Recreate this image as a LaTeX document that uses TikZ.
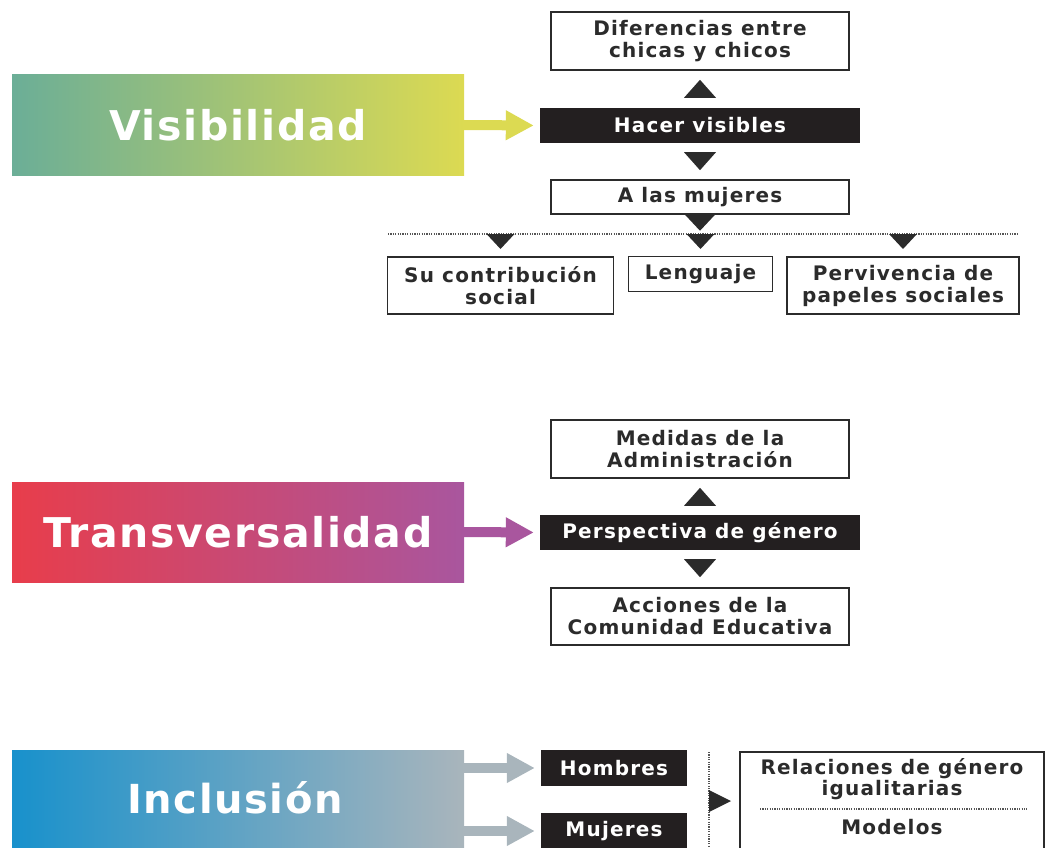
\documentclass[tikz,border=0pt]{standalone}
\usepackage{fontspec}
\setmainfont{DejaVu Sans}
\newfontfamily\labelfont{DejaVu Sans}[LetterSpace=6,BoldFont={DejaVu Sans Bold}]
\newfontfamily\headfont{DejaVu Sans}[LetterSpace=4,BoldFont={DejaVu Sans Bold}]
\usetikzlibrary{calc,arrows.meta}

\definecolor{ink}{HTML}{2B2B2B}
\definecolor{boxblack}{HTML}{231F20}
\definecolor{visL}{HTML}{6BAE97}
\definecolor{visR}{HTML}{DCDA52}
\definecolor{traL}{HTML}{E83D4B}
\definecolor{traR}{HTML}{A9569E}
\definecolor{incL}{HTML}{1891CC}
\definecolor{incR}{HTML}{A9B5BC}
\definecolor{dotgray}{HTML}{555555}

% filled triangles used as arrowheads between boxes
\newcommand\downtri[3]{\fill[ink] (#1) ++(-#2/2,0) -- ++(#2,0) -- ++(-#2/2,#3) -- cycle;}
\newcommand\uptri[3]{\fill[ink] (#1) ++(-#2/2,0) -- ++(#2,0) -- ++(-#2/2,-#3) -- cycle;}

\begin{document}
\begin{tikzpicture}[x=1pt,y=-1pt,
  labeltext/.style={font=\labelfont\bfseries\fontsize{20}{22}\selectfont},
  whitebox/.style={labeltext, draw=ink, line width=1.5pt, fill=white, text=ink,
    align=center, inner sep=0pt},
  darkbox/.style={labeltext, fill=boxblack, text=white, align=center, inner sep=0pt,
    minimum height=35pt},
  headbox/.style={inner sep=0pt, minimum width=452pt, minimum height=100pt, text=white,
    font=\headfont\bfseries\fontsize{41}{44}\selectfont},
  fatarrow/.style={line width=10pt, -{Triangle[length=28pt,width=28pt]}, shorten >=6pt},
  dotline/.style={draw=dotgray, line width=1.2pt, dash pattern=on 1.2pt off 1.2pt}
]
\useasboundingbox (0,0) rectangle (1046,848);
\clip (0,0) rectangle (1046,848);

% ---------- Visibilidad ----------
\node[headbox, left color=visL, right color=visR] (vis) at (238,125) {Visibilidad};
\node[whitebox, minimum width=298pt, minimum height=58pt] (dif) at (700,41)
  {Diferencias entre\\chicas y chicos};
\node[darkbox, minimum width=320pt] (hacer) at (700,125.5) {Hacer visibles};
\node[whitebox, minimum width=298pt, minimum height=34pt] (muj) at (700,197)
  {A las mujeres};
\node[whitebox, minimum width=226pt, minimum height=57pt] (contrib) at (500.5,285.5)
  {Su contribución\\social};
\node[whitebox, minimum width=144pt, minimum height=35pt] (leng) at (700.5,274)
  {Lenguaje};
\node[whitebox, minimum width=232pt, minimum height=57pt] (perv) at (903,285.5)
  {Pervivencia de\\papeles sociales};

\draw[fatarrow, visR] (vis.east) -- (hacer.west);
\uptri{$(hacer.north)+(0,-10)$}{32}{18}
\downtri{$(hacer.south)+(0,9)$}{32}{18}
\coordinate (rowL) at (388,234);
\coordinate (rowR) at (1018,234);
\draw[dotline] (rowL) -- (rowR);
\downtri{muj.south}{30}{16}
\downtri{$(contrib.north |- rowL)$}{28}{15}
\downtri{$(leng.north |- rowL)$}{28}{15}
\downtri{$(perv.north |- rowL)$}{28}{15}

% ---------- Transversalidad ----------
\node[headbox, left color=traL, right color=traR] (tra) at (238,532) {Transversalidad};
\node[whitebox, minimum width=298pt, minimum height=58pt] (med) at (700,449)
  {Medidas de la\\Administración};
\node[darkbox, minimum width=320pt] (persp) at (700,532.5) {Perspectiva de género};
\node[whitebox, minimum width=298pt, minimum height=57pt] (acc) at (700,616.5)
  {Acciones de la\\Comunidad Educativa};

\draw[fatarrow, traR] (tra.east) -- (persp.west);
\uptri{$(persp.north)+(0,-9)$}{32}{18}
\downtri{$(persp.south)+(0,9)$}{32}{18}

% ---------- Inclusión ----------
\node[headbox, left color=incL, right color=incR, minimum height=120pt, anchor=north]
  (inc) at (238,750) {};
\node[font=\headfont\bfseries\fontsize{40}{44}\selectfont, text=white] (inctext)
  at (235,798) {Inclusión};
\node[darkbox, minimum width=146pt, minimum height=36pt] (hom) at (614,768) {Hombres};
\node[darkbox, minimum width=146pt, minimum height=36pt] (mjr) at (614,831) {Mujeres};
\draw[fatarrow, incR] (inc.east |- hom) -- (hom.west);
\draw[fatarrow, incR] (inc.east |- mjr) -- (mjr.west);

\coordinate (sepT) at (709,752);
\coordinate (sepB) at (709,860);
\draw[dotline] (sepT) -- (sepB);
\node[draw=ink, line width=1.5pt, fill=white, minimum width=304pt, minimum height=140pt,
  inner sep=0pt, anchor=north] (rel) at (892,751) {};
\fill[ink] (sepT |- 0,790) -- (731,801) -- (sepT |- 0,812) -- cycle;
\node[text=ink, align=center, font=\labelfont\bfseries\fontsize{20}{19.5}\selectfont]
  (reltext) at (892,779) {Relaciones de género\\igualitarias};
\coordinate (relL) at (760,809);
\coordinate (relR) at (1027,809);
\draw[dotline] (relL) -- (relR);
\node[labeltext, text=ink] (model) at (892,827) {Modelos};
\end{tikzpicture}
\end{document}
